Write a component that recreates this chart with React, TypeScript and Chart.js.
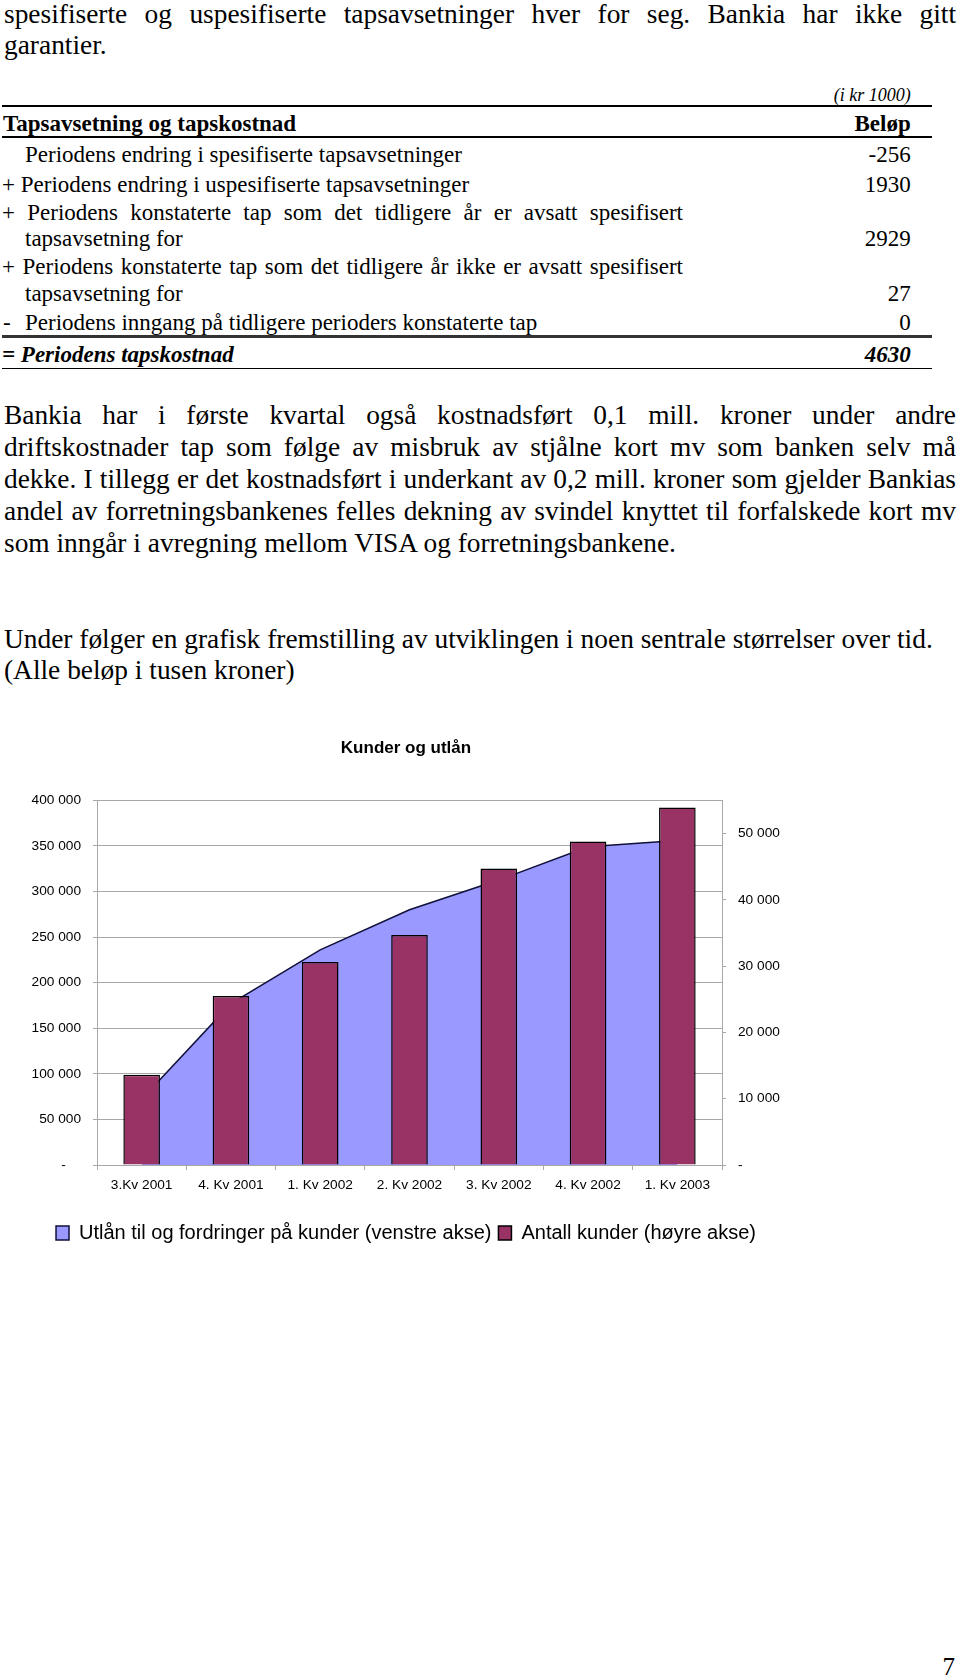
import React, { useEffect, useRef } from 'react';
import { Chart, registerables } from 'chart.js';

Chart.register(...registerables);

// ---------- chart data ----------
const categories = ['3.Kv 2001', '4. Kv 2001', '1. Kv 2002', '2. Kv 2002', '3. Kv 2002', '4. Kv 2002', '1. Kv 2003'];
const utlanValues = [72000, 177000, 236000, 280000, 312500, 349000, 356000];
const kunderValues = [13600, 25500, 30600, 34700, 44700, 48800, 53900];
const leftAxisTicks = [0, 50000, 100000, 150000, 200000, 250000, 300000, 350000, 400000];
const rightAxisTicks = [0, 10000, 20000, 30000, 40000, 50000];
const rightAxisMax = 55000;
const seriesNames = ['Utlån til og fordringer på kunder (venstre akse)', 'Antall kunder (høyre akse)'];
const chartTitle = 'Kunder og utlån';

// ---------- page text ----------
const introLines = [
  'spesifiserte og uspesifiserte tapsavsetninger hver for seg. Bankia har ikke gitt',
  'garantier.',
];
const tableUnit = '(i kr 1000)';
const tableHeader = ['Tapsavsetning og tapskostnad', 'Beløp'];
const tableLabels = [
  'Periodens endring i spesifiserte tapsavsetninger',
  '+ Periodens endring i uspesifiserte tapsavsetninger',
  '+ Periodens konstaterte tap som det tidligere år er avsatt spesifisert',
  'tapsavsetning for',
  '+ Periodens konstaterte tap som det tidligere år ikke er avsatt spesifisert',
  'tapsavsetning for',
  'Periodens inngang på tidligere perioders konstaterte tap',
];
const tableValues = ['-256', '1930', '2929', '27', '0'];
const tableTotal = ['= Periodens tapskostnad', '4630'];
const paragraphLines = [
  'Bankia har i første kvartal også kostnadsført 0,1 mill. kroner under andre',
  'driftskostnader tap som følge av misbruk av stjålne kort mv som banken selv må',
  'dekke. I tillegg er det kostnadsført i underkant av 0,2 mill. kroner som gjelder Bankias',
  'andel av forretningsbankenes felles dekning av svindel knyttet til forfalskede kort mv',
  'som inngår i avregning mellom VISA og forretningsbankene.',
];
const outroLines = [
  'Under følger en grafisk fremstilling av utviklingen i noen sentrale størrelser over tid.',
  '(Alle beløp i tusen kroner)',
];
const pageNumber = '7';

const SERIF = "'Liberation Serif', 'Times New Roman', serif";
const SANS = "'Liberation Sans', Arial, Helvetica, sans-serif";
const GRID = '#a8a8a8';

const fmt = (v: number) => String(v).replace(/\B(?=(\d{3})+(?!\d))/g, ' ');

type TP = {
  x: number;
  b: number;
  size: number;
  w?: number;
  align?: 'left' | 'right' | 'justify';
  bold?: boolean;
  italic?: boolean;
  children: React.ReactNode;
};

function T({ x, b, size, w, align = 'left', bold, italic, children }: TP) {
  const style: React.CSSProperties = {
    position: 'absolute',
    left: x,
    top: b - 0.8375 * size,
    width: w,
    fontFamily: SERIF,
    fontSize: size,
    lineHeight: size + 'px',
    fontWeight: bold ? 'bold' : 'normal',
    fontStyle: italic ? 'italic' : 'normal',
    whiteSpace: 'nowrap',
    textAlign: align,
    textAlignLast: align === 'justify' ? 'justify' : undefined,
    color: '#000',
  };
  return <div style={style}>{children}</div>;
}

function Rule({ y, h = 1.5, color = '#000' }: { y: number; h?: number; color?: string }) {
  return <div style={{ position: 'absolute', left: 2, top: y - h / 2, width: 930, height: h, background: color }} />;
}

export default function App() {
  const ref = useRef<HTMLCanvasElement>(null);

  useEffect(() => {
    const tickFont = { family: SANS, size: 13.7 };
    const chart = new Chart(ref.current as HTMLCanvasElement, {
      type: 'bar',
      data: {
        labels: categories,
        datasets: [
          {
            type: 'line',
            label: seriesNames[0],
            data: utlanValues,
            yAxisID: 'y',
            fill: 'origin',
            backgroundColor: '#9999FF',
            borderColor: '#10103a',
            borderWidth: 1.5,
            pointRadius: 0,
            pointHoverRadius: 0,
            tension: 0,
            order: 1,
          } as any,
          {
            type: 'bar',
            label: seriesNames[1],
            data: kunderValues,
            yAxisID: 'y1',
            backgroundColor: '#993366',
            borderColor: '#000000',
            borderWidth: 1.5,
            barPercentage: 0.41,
            categoryPercentage: 1,
            order: 0,
          } as any,
        ],
      },
      options: {
        responsive: false,
        animation: false,
        devicePixelRatio: 1,
        layout: { padding: 0 },
        plugins: {
          title: {
            display: true,
            text: chartTitle,
            color: '#000',
            font: { family: SANS, size: 17, weight: 'bold' },
            padding: { top: 18.3, bottom: 41.6 },
          },
          legend: {
            display: true,
            position: 'bottom',
            labels: {
              color: '#000',
              font: { family: SANS, size: 20 },
              boxWidth: 13,
              boxHeight: 14,
              padding: 7,
              sort: (a: any, b: any) => a.datasetIndex - b.datasetIndex,
            },
          },
          tooltip: { enabled: false },
        },
        scales: {
          x: {
            grid: { display: true, drawOnChartArea: false, drawTicks: true, tickLength: 5, color: GRID, offset: true },
            border: { display: true, color: GRID },
            ticks: { color: '#000', font: tickFont, padding: 7, maxRotation: 0, autoSkip: false },
            afterFit: (s: any) => {
              s.height = 51;
            },
          },
          y: {
            position: 'left',
            min: leftAxisTicks[0],
            max: leftAxisTicks[leftAxisTicks.length - 1],
            afterBuildTicks: (s: any) => {
              s.ticks = leftAxisTicks.map((v) => ({ value: v }));
            },
            ticks: {
              color: '#000',
              font: tickFont,
              padding: 12,
              callback: (v: any) => (Number(v) === 0 ? '-    ' : fmt(Number(v))),
            },
            grid: { color: GRID, tickLength: 4 },
            border: { color: GRID },
            afterFit: (s: any) => {
              s.width = 97;
            },
          },
          y1: {
            position: 'right',
            min: 0,
            max: rightAxisMax,
            afterBuildTicks: (s: any) => {
              s.ticks = rightAxisTicks.map((v) => ({ value: v }));
            },
            ticks: {
              color: '#000',
              font: tickFont,
              padding: 12,
              callback: (v: any) => (Number(v) === 0 ? '-' : fmt(Number(v))),
            },
            grid: { drawOnChartArea: false, color: GRID, tickLength: 4 },
            border: { color: GRID },
            afterFit: (s: any) => {
              s.width = 90;
            },
          },
        },
      } as any,
    });
    return () => chart.destroy();
  }, []);

  return (
    <div style={{ position: 'relative', width: 960, height: 1678, overflow: 'hidden', background: '#fff' }}>
      <style>{'html,body{margin:0;padding:0;overflow:hidden;background:#fff}'}</style>

      <T x={4} b={23.5} size={27.4} w={952} align="justify">{introLines[0]}</T>
      <T x={4} b={55.3} size={27.4}>{introLines[1]}</T>

      <T x={0} b={100.7} size={18} w={910.7} align="right" italic>{tableUnit}</T>
      <Rule y={106} />
      <T x={3} b={131.7} size={23} bold>{tableHeader[0]}</T>
      <T x={0} b={131.7} size={23} w={910.7} align="right" bold>{tableHeader[1]}</T>
      <Rule y={137} />

      <T x={25} b={162.7} size={23}>{tableLabels[0]}</T>
      <T x={0} b={162.7} size={23} w={910.7} align="right">{tableValues[0]}</T>

      <T x={2} b={192.3} size={23}>{tableLabels[1]}</T>
      <T x={0} b={192.3} size={23} w={910.7} align="right">{tableValues[1]}</T>

      <T x={2} b={220} size={23} w={681} align="justify">{tableLabels[2]}</T>
      <T x={25} b={246.7} size={23}>{tableLabels[3]}</T>
      <T x={0} b={246.7} size={23} w={910.7} align="right">{tableValues[2]}</T>

      <T x={2} b={274} size={23} w={681} align="justify">{tableLabels[4]}</T>
      <T x={25} b={301} size={23}>{tableLabels[5]}</T>
      <T x={0} b={301} size={23} w={910.7} align="right">{tableValues[3]}</T>

      <T x={3} b={330.5} size={23}>-</T>
      <T x={25} b={330.5} size={23}>{tableLabels[6]}</T>
      <T x={0} b={330.5} size={23} w={910.7} align="right">{tableValues[4]}</T>
      <Rule y={336.7} h={2.5} color="#333" />

      <T x={2} b={362} size={23} bold italic>{tableTotal[0]}</T>
      <T x={0} b={362} size={23} w={910.7} align="right" bold italic>{tableTotal[1]}</T>
      <Rule y={368.5} />

      {paragraphLines.map((line, i) => (
        <T key={i} x={4} b={425 + i * 31.9} size={27.4} w={952} align={i < paragraphLines.length - 1 ? 'justify' : 'left'}>
          {line}
        </T>
      ))}

      <T x={4} b={648.5} size={27.4}>{outroLines[0]}</T>
      <T x={4} b={680.3} size={27.4}>{outroLines[1]}</T>

      <canvas
        ref={ref}
        width={812}
        height={533}
        style={{ position: 'absolute', left: 0, top: 720, width: 812, height: 533 }}
      />

      <T x={0} b={1675} size={25} w={955} align="right">{pageNumber}</T>
    </div>
  );
}
